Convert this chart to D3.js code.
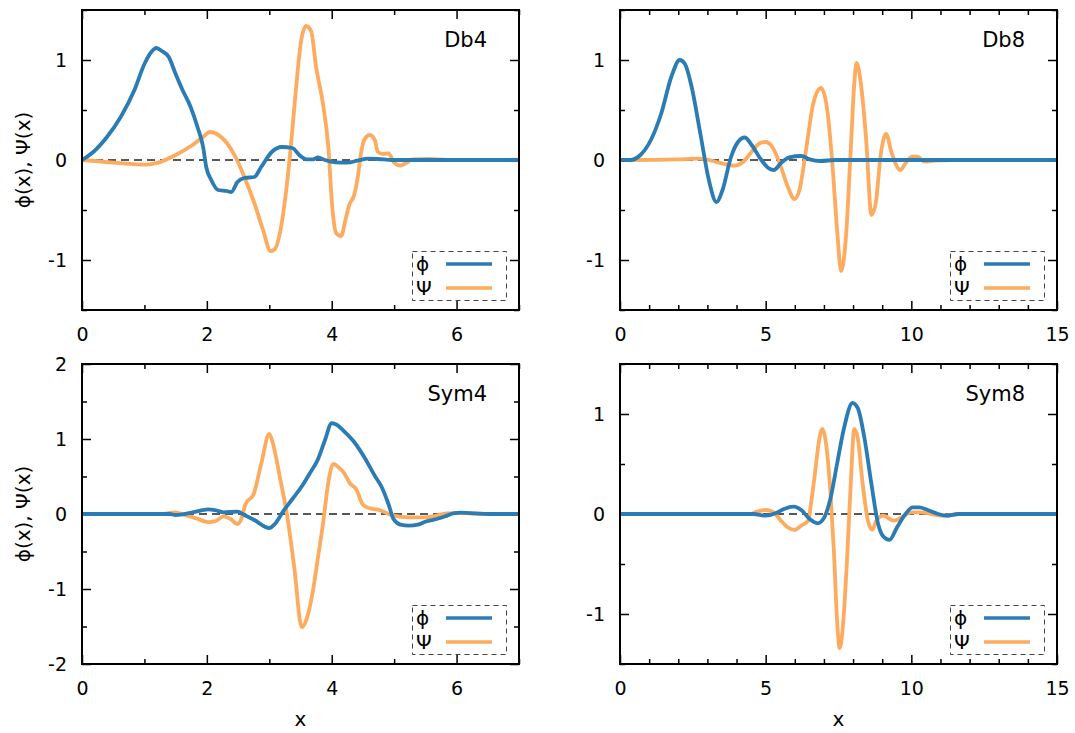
<!DOCTYPE html>
<html>
<head>
<meta charset="utf-8">
<script src="https://cdn.jsdelivr.net/npm/d3@7"></script>
<style>
  html, body { margin: 0; padding: 0; background: #fff; }
  svg { display: block; }
  text { font-family: "DejaVu Sans", sans-serif; fill: #000; }
</style>
</head>
<body>
<svg id="chart" width="1075" height="733"></svg>
<script>
// ---- Wavelet samples: [x, value] ----
const db4Phi = [[0,0],[0.18,0.08],[0.40,0.23],[0.62,0.43],[0.84,0.70],[1.0,0.96],[1.11,1.08],[1.19,1.12],[1.28,1.09],[1.39,1.03],[1.50,0.86],[1.61,0.70],[1.74,0.53],[1.85,0.33],[1.94,0.13],[1.99,-0.07],[2.07,-0.20],[2.18,-0.30],[2.32,-0.31],[2.39,-0.32],[2.49,-0.22],[2.60,-0.18],[2.76,-0.17],[2.87,-0.07],[3.04,0.08],[3.20,0.13],[3.37,0.12],[3.48,0.05],[3.59,0.007],[3.70,0.007],[3.78,0.026],[3.89,0],[4.06,-0.023],[4.25,-0.026],[4.41,-0.007],[4.58,0.013],[4.74,0.01],[4.96,0],[7,0]];
const db4Psi = [[0,0],[0.51,-0.026],[1.03,-0.046],[1.22,-0.026],[1.50,0.05],[1.77,0.15],[1.94,0.23],[2.05,0.28],[2.16,0.26],[2.32,0.17],[2.46,0.03],[2.60,-0.17],[2.76,-0.43],[2.90,-0.70],[3.02,-0.91],[3.09,-0.89],[3.18,-0.70],[3.26,-0.36],[3.34,0.10],[3.42,0.66],[3.51,1.19],[3.59,1.34],[3.67,1.29],[3.75,0.93],[3.86,0.56],[3.95,0.10],[4.00,-0.40],[4.07,-0.73],[4.15,-0.76],[4.22,-0.60],[4.28,-0.45],[4.36,-0.35],[4.41,-0.20],[4.47,0.07],[4.52,0.20],[4.61,0.25],[4.69,0.20],[4.74,0.08],[4.83,0.06],[4.91,0.066],[4.99,-0.017],[5.10,-0.056],[5.21,-0.023],[5.29,0.007],[5.57,0.01],[5.85,0],[7,0]];

const db8Phi = [[0,0],[0.35,0],[0.70,0.05],[1.06,0.20],[1.41,0.46],[1.76,0.83],[2.05,1.0],[2.23,0.96],[2.46,0.73],[2.76,0.26],[3.05,-0.20],[3.31,-0.42],[3.52,-0.30],[3.81,0.03],[4.05,0.18],[4.28,0.225],[4.52,0.15],[4.81,0.017],[5.11,-0.083],[5.28,-0.10],[5.52,-0.033],[5.81,0.026],[6.22,0.04],[6.51,0.007],[6.87,-0.01],[7.39,0],[15,0]];
const db8Psi = [[0,0],[2.0,0.007],[2.7,0.013],[3.05,0],[3.40,-0.026],[3.93,-0.056],[4.23,-0.017],[4.52,0.083],[4.81,0.17],[4.99,0.18],[5.23,0.13],[5.52,-0.066],[5.75,-0.26],[5.99,-0.39],[6.16,-0.30],[6.40,0.13],[6.63,0.56],[6.90,0.72],[7.10,0.53],[7.28,0],[7.46,-0.73],[7.59,-1.11],[7.75,-0.79],[7.92,0.10],[8.04,0.76],[8.12,0.97],[8.27,0.76],[8.45,0.20],[8.63,-0.55],[8.78,-0.43],[8.94,0.033],[9.13,0.26],[9.33,0.066],[9.62,-0.10],[9.80,-0.033],[10.03,0.033],[10.21,0.033],[10.45,-0.017],[10.80,-0.007],[11.38,0],[15,0]];

const sym4Phi = [[0,0],[1.4,0],[1.50,-0.013],[1.77,0.022],[2.02,0.062],[2.13,0.053],[2.27,0.022],[2.49,0.031],[2.60,-0.013],[2.76,-0.08],[3.0,-0.187],[3.09,-0.133],[3.23,0.044],[3.37,0.20],[3.53,0.38],[3.64,0.53],[3.78,0.73],[3.89,0.98],[4.0,1.21],[4.08,1.19],[4.19,1.11],[4.36,0.96],[4.52,0.76],[4.69,0.51],[4.80,0.36],[4.91,0.13],[4.99,-0.067],[5.10,-0.142],[5.24,-0.156],[5.38,-0.142],[5.51,-0.10],[5.68,-0.067],[5.82,-0.031],[5.96,0.013],[6.07,0.018],[6.29,0.009],[6.51,0],[7,0]];
const sym4Psi = [[0,0],[1.3,0],[1.39,0.013],[1.50,0.022],[1.63,-0.009],[1.83,-0.058],[2.02,-0.107],[2.13,-0.098],[2.27,-0.031],[2.38,-0.067],[2.49,-0.133],[2.54,-0.089],[2.62,0.133],[2.75,0.267],[2.87,0.667],[3.0,1.067],[3.06,0.933],[3.17,0.489],[3.29,-0.044],[3.40,-0.711],[3.52,-1.51],[3.59,-1.42],[3.70,-1.02],[3.78,-0.578],[3.86,-0.133],[3.95,0.444],[4.03,0.667],[4.11,0.622],[4.19,0.556],[4.30,0.40],[4.39,0.333],[4.50,0.124],[4.61,0.076],[4.74,0.058],[4.85,0.022],[4.99,-0.022],[5.24,-0.044],[5.51,-0.044],[5.68,-0.022],[5.84,0.009],[6.07,0.013],[6.5,0],[7,0]];

const sym8Phi = [[0,0],[4.4,0],[4.58,0],[4.99,-0.017],[5.34,0.007],[5.63,0.05],[5.96,0.073],[6.22,0.04],[6.51,-0.05],[6.78,-0.093],[6.98,-0.05],[7.22,0.15],[7.45,0.50],[7.69,0.86],[7.98,1.11],[8.16,1.06],[8.39,0.76],[8.63,0.30],[8.86,-0.10],[9.04,-0.225],[9.25,-0.258],[9.51,-0.132],[9.80,0],[10.04,0.066],[10.27,0.066],[10.56,0.04],[10.92,0],[11.21,-0.017],[11.62,0],[15,0]];
const sym8Psi = [[0,0],[4.5,0],[4.64,0.017],[4.99,0.04],[5.28,0.017],[5.52,-0.066],[5.75,-0.132],[5.99,-0.159],[6.22,-0.116],[6.46,-0.066],[6.57,0.132],[6.69,0.40],[6.83,0.73],[6.95,0.85],[7.06,0.73],[7.22,0.23],[7.34,-0.36],[7.45,-1.06],[7.54,-1.34],[7.63,-1.19],[7.78,-0.53],[7.92,0.30],[8.04,0.85],[8.16,0.76],[8.33,0.30],[8.51,-0.066],[8.66,-0.159],[8.80,-0.066],[9.04,-0.017],[9.39,-0.066],[9.68,-0.033],[9.98,0.017],[10.33,0.017],[10.68,0],[11.15,-0.017],[11.62,0],[15,0]];

// ---- Axis settings ----
const panelNames = ["Db4", "Db8", "Sym4", "Sym8"];
const xDomains = [[0, 7], [0, 15], [0, 7], [0, 15]];
const yDomains = [[-1.5, 1.5], [-1.5, 1.5], [-2, 2], [-1.5, 1.5]];
const xMajorTicks = [[0, 2, 4, 6], [0, 5, 10, 15], [0, 2, 4, 6], [0, 5, 10, 15]];
const yMajorTicks = [[-1, 0, 1], [-1, 0, 1], [-2, -1, 0, 1, 2], [-1, 0, 1]];
const legendLabels = ["ϕ", "Ψ"];
const yAxisLabel = "ϕ(x), Ψ(x)";
const xAxisLabel = "x";

const phiSeries = [db4Phi, db8Phi, sym4Phi, sym8Phi];
const psiSeries = [db4Psi, db8Psi, sym4Psi, sym8Psi];

const COLORS = { phi: "#2b7bb4", psi: "#fdab5e" };

// plot-area boxes (left, top, width, height)
const boxes = [
  { x: 82, y: 10, w: 437, h: 300 },
  { x: 620, y: 10, w: 437, h: 300 },
  { x: 82, y: 364, w: 437, h: 300 },
  { x: 620, y: 364, w: 437, h: 300 }
];

const svg = d3.select("#chart");
svg.append("rect").attr("width", 1075).attr("height", 733).attr("fill", "#fff");

const FONT = 19;
const LABEL_FONT = 20;
const MAJOR = 9, MINOR = 5;
const LW = 3.8;
const plain = d => String(d);   // plain hyphen-minus, e.g. "-1"

panelNames.forEach((name, i) => {
  const b = boxes[i];
  const g = svg.append("g").attr("transform", `translate(${b.x},${b.y})`);
  const x = d3.scaleLinear().domain(xDomains[i]).range([0, b.w]);
  const y = d3.scaleLinear().domain(yDomains[i]).range([b.h, 0]);

  const xMinor = d3.range(xDomains[i][0], xDomains[i][1] + 1e-9, 1).filter(v => !xMajorTicks[i].includes(v));
  const yMinor = d3.range(yDomains[i][0], yDomains[i][1] + 1e-9, 0.5).filter(v => !yMajorTicks[i].includes(v));

  const clipId = "clip" + i;
  g.append("clipPath").attr("id", clipId)
    .append("rect").attr("width", b.w).attr("height", b.h);

  // zero reference line
  g.append("line")
    .attr("x1", 0).attr("x2", b.w)
    .attr("y1", y(0)).attr("y2", y(0))
    .attr("stroke", "#222").attr("stroke-width", 1.3)
    .attr("stroke-dasharray", "8,5");

  // inward ticks on all four sides
  const gb = g.append("g").attr("transform", `translate(0,${b.h})`)
    .call(d3.axisBottom(x).tickValues(xMajorTicks[i]).tickSizeInner(-MAJOR).tickSizeOuter(0).tickPadding(18).tickFormat(plain));
  const gbMinor = g.append("g").attr("transform", `translate(0,${b.h})`)
    .call(d3.axisBottom(x).tickValues(xMinor).tickSizeInner(-MINOR).tickSizeOuter(0).tickFormat(""));
  const gt = g.append("g").call(d3.axisTop(x).tickValues(xMajorTicks[i]).tickSizeInner(-MAJOR).tickSizeOuter(0).tickFormat(""));
  const gtMinor = g.append("g").call(d3.axisTop(x).tickValues(xMinor).tickSizeInner(-MINOR).tickSizeOuter(0).tickFormat(""));
  const gl = g.append("g").call(d3.axisLeft(y).tickValues(yMajorTicks[i]).tickSizeInner(-MAJOR).tickSizeOuter(0).tickPadding(15).tickFormat(plain));
  const glMinor = g.append("g").call(d3.axisLeft(y).tickValues(yMinor).tickSizeInner(-MINOR).tickSizeOuter(0).tickFormat(""));
  const gr = g.append("g").attr("transform", `translate(${b.w},0)`)
    .call(d3.axisRight(y).tickValues(yMajorTicks[i]).tickSizeInner(-MAJOR).tickSizeOuter(0).tickFormat(""));
  const grMinor = g.append("g").attr("transform", `translate(${b.w},0)`)
    .call(d3.axisRight(y).tickValues(yMinor).tickSizeInner(-MINOR).tickSizeOuter(0).tickFormat(""));

  [gb, gbMinor, gt, gtMinor, gl, glMinor, gr, grMinor].forEach(a => {
    a.select(".domain").remove();
    a.selectAll(".tick line").attr("stroke", "#000").attr("stroke-width", 1.5);
    a.selectAll(".tick text").attr("font-family", "DejaVu Sans, sans-serif")
      .attr("font-size", FONT).attr("fill", "#000");
  });
  gb.selectAll(".tick text").attr("dy", "0.71em");

  // curves
  const line = d3.line().x(d => x(d[0])).y(d => y(d[1])).curve(d3.curveMonotoneX);
  const curves = g.append("g").attr("clip-path", `url(#${clipId})`);
  curves.append("path").datum(psiSeries[i])
    .attr("d", line).attr("fill", "none")
    .attr("stroke", COLORS.psi).attr("stroke-width", LW)
    .attr("stroke-linejoin", "round").attr("stroke-linecap", "round");
  curves.append("path").datum(phiSeries[i])
    .attr("d", line).attr("fill", "none")
    .attr("stroke", COLORS.phi).attr("stroke-width", LW)
    .attr("stroke-linejoin", "round").attr("stroke-linecap", "round");

  // frame
  g.append("rect").attr("width", b.w).attr("height", b.h)
    .attr("fill", "none").attr("stroke", "#000").attr("stroke-width", 2);

  // panel title
  g.append("text").attr("x", b.w - 32).attr("y", 37)
    .attr("text-anchor", "end").attr("font-size", 21).text(name);

  // legend
  const lg = g.append("g").attr("transform", `translate(${b.w - 107},${b.h - 59})`);
  lg.append("rect").attr("x", 0.5).attr("y", 0.5).attr("width", 94).attr("height", 49)
    .attr("fill", "#fff").attr("stroke", "#444").attr("stroke-width", 1)
    .attr("stroke-dasharray", "5,4");
  [COLORS.phi, COLORS.psi].forEach((c, k) => {
    const yy = 13 + k * 24;
    lg.append("text").attr("x", 4).attr("y", yy).attr("dy", "0.36em")
      .attr("font-size", LABEL_FONT).text(legendLabels[k]);
    lg.append("line").attr("x1", 34).attr("x2", 80).attr("y1", yy).attr("y2", yy)
      .attr("stroke", c).attr("stroke-width", 3.5);
  });

  // axis labels
  if (i % 2 === 0) {
    svg.append("text")
      .attr("transform", `translate(${b.x - 59},${b.y + b.h / 2}) rotate(-90)`)
      .attr("text-anchor", "middle").attr("dy", "0.36em")
      .attr("font-size", LABEL_FONT).text(yAxisLabel);
  }
  if (i >= 2) {
    svg.append("text")
      .attr("x", b.x + b.w / 2).attr("y", b.y + b.h + 62)
      .attr("text-anchor", "middle").attr("font-size", LABEL_FONT).text(xAxisLabel);
  }
});
</script>
</body>
</html>
